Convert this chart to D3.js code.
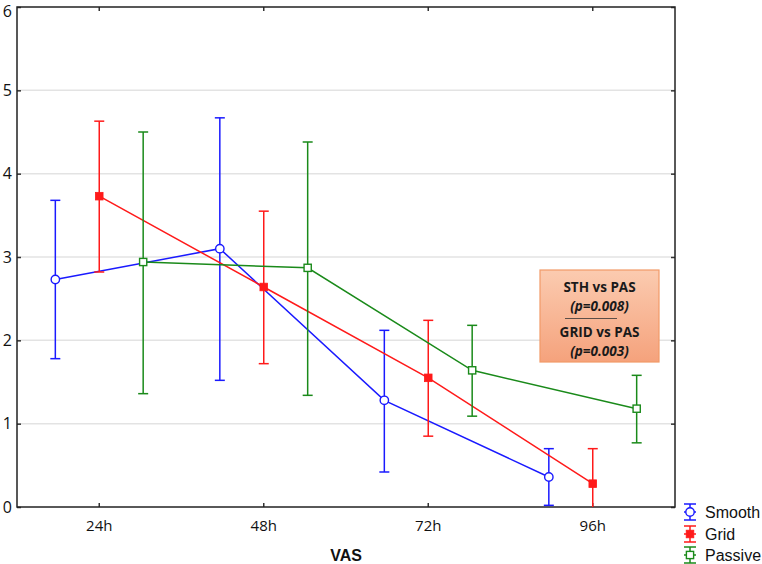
<!DOCTYPE html>
<html>
<head>
<meta charset="utf-8">
<script src="https://cdn.jsdelivr.net/npm/d3@7"></script>
<style>
  html, body { margin: 0; padding: 0; background: #fff; }
  svg { display: block; }
</style>
</head>
<body>
<svg id="chart" width="762" height="564"></svg>
<script>
// ---- data ----
const categories = ["24h", "48h", "72h", "96h"];
const yTicks = [0, 1, 2, 3, 4, 5, 6];
const seriesNames = ["Smooth", "Grid", "Passive"];

const smoothMean  = [2.73, 3.10, 1.28, 0.36];
const smoothUpper = [3.68, 4.67, 2.12, 0.70];
const smoothLower = [1.78, 1.52, 0.42, 0.02];

const gridMean  = [3.73, 2.64, 1.55, 0.28];
const gridUpper = [4.63, 3.55, 2.24, 0.70];
const gridLower = [2.82, 1.72, 0.85, -0.14];

const passiveMean  = [2.94, 2.87, 1.64, 1.18];
const passiveUpper = [4.50, 4.38, 2.18, 1.58];
const passiveLower = [1.36, 1.34, 1.09, 0.77];

const annotationLines = ["STH vs PAS", "(p=0.008)", "GRID vs PAS", "(p=0.003)"];
const xTitle = "VAS";

// ---- layout / styles ----
const colors = { Smooth: "#1a1aff", Grid: "#ff1a1a", Passive: "#1a8a1a" };
const markers = { Smooth: "circle", Grid: "filledSquare", Passive: "openSquare" };
const offsets = { Smooth: -0.267, Grid: 0, Passive: 0.267 };

const series = [
  { name: "Smooth", mean: smoothMean, upper: smoothUpper, lower: smoothLower },
  { name: "Grid", mean: gridMean, upper: gridUpper, lower: gridLower },
  { name: "Passive", mean: passiveMean, upper: passiveUpper, lower: passiveLower }
];

const plot = { left: 17, top: 7, right: 675, bottom: 507 };
const svg = d3.select("#chart");

const x = d3.scaleBand().domain(categories).range([plot.left, plot.right]).paddingInner(0).paddingOuter(0);
const y = d3.scaleLinear().domain([0, 6]).range([plot.bottom, plot.top]);
const bw = x.bandwidth();
const cx = (cat, name) => x(cat) + bw / 2 + offsets[name] * bw;

// clip
svg.append("defs").append("clipPath").attr("id", "plotclip")
  .append("rect").attr("x", plot.left).attr("y", plot.top)
  .attr("width", plot.right - plot.left).attr("height", plot.bottom - plot.top);

// gridlines
svg.append("g").selectAll("line").data(yTicks.filter(d => d > 0 && d < 6)).join("line")
  .attr("x1", plot.left).attr("x2", plot.right)
  .attr("y1", d => y(d)).attr("y2", d => y(d))
  .attr("stroke", "#e3e3e3").attr("stroke-width", 1.5);

const tickFont = "'Open Sans', 'DejaVu Sans', sans-serif";

// axes
const gx = svg.append("g").attr("transform", `translate(0,${plot.bottom})`)
  .call(d3.axisBottom(x).tickSizeInner(-4).tickSizeOuter(0).tickPadding(13));
const gxTop = svg.append("g").attr("transform", `translate(0,${plot.top})`)
  .call(d3.axisTop(x).tickSizeInner(-4).tickSizeOuter(0).tickFormat(""));
const gy = svg.append("g").attr("transform", `translate(${plot.left},0)`)
  .call(d3.axisLeft(y).tickValues(yTicks).tickSizeInner(-4).tickSizeOuter(0).tickPadding(5).tickFormat(d3.format("d")));
const gyR = svg.append("g").attr("transform", `translate(${plot.right},0)`)
  .call(d3.axisRight(y).tickValues(yTicks).tickSizeInner(-4).tickSizeOuter(0).tickFormat(""));

[gx, gxTop, gy, gyR].forEach(g => {
  g.select(".domain").remove();
  g.selectAll(".tick line").attr("stroke", "#333").attr("stroke-width", 1.5);
  g.selectAll("text").attr("font-family", tickFont).attr("font-size", 15).attr("fill", "#111");
});
gy.selectAll("text").attr("font-size", 16);
gy.selectAll(".tick").filter(d => d === 6).select("text").attr("dy", "0.6em");

// frame
svg.append("rect").attr("x", plot.left).attr("y", plot.top)
  .attr("width", plot.right - plot.left).attr("height", plot.bottom - plot.top)
  .attr("fill", "none").attr("stroke", "#222").attr("stroke-width", 1.5);

// x title
svg.append("text").attr("x", 346).attr("y", 561).attr("text-anchor", "middle")
  .attr("font-family", "'Liberation Sans', Arial, sans-serif").attr("font-weight", "bold")
  .attr("font-size", 16).attr("fill", "#111").text(xTitle);

// series
const capW = 5;
function drawMarker(g, type, color, px, py) {
  if (type === "circle") {
    g.append("circle").attr("cx", px).attr("cy", py).attr("r", 4.2)
      .attr("fill", "#fff").attr("stroke", color).attr("stroke-width", 1.4);
  } else if (type === "filledSquare") {
    g.append("rect").attr("x", px - 3.8).attr("y", py - 3.8).attr("width", 7.6).attr("height", 7.6)
      .attr("fill", color).attr("stroke", color).attr("stroke-width", 0.8);
  } else {
    g.append("rect").attr("x", px - 3.6).attr("y", py - 3.6).attr("width", 7.2).attr("height", 7.2)
      .attr("fill", "#fff").attr("stroke", color).attr("stroke-width", 1.4);
  }
}

const plotG = svg.append("g").attr("clip-path", "url(#plotclip)");
series.forEach(s => {
  const color = colors[s.name];
  const g = plotG.append("g");
  const pts = categories.map((c, i) => ({ c, i }));
  pts.forEach(p => {
    const px = cx(p.c, s.name);
    g.append("line").attr("x1", px).attr("x2", px)
      .attr("y1", y(s.lower[p.i])).attr("y2", y(s.upper[p.i]))
      .attr("stroke", color).attr("stroke-width", 1.5);
    [s.lower[p.i], s.upper[p.i]].forEach(v => {
      g.append("line").attr("x1", px - capW).attr("x2", px + capW)
        .attr("y1", y(v)).attr("y2", y(v))
        .attr("stroke", color).attr("stroke-width", 1.5);
    });
  });
  g.append("path").datum(pts)
    .attr("d", d3.line().x(p => cx(p.c, s.name)).y(p => y(s.mean[p.i])))
    .attr("fill", "none").attr("stroke", color).attr("stroke-width", 1.5);
  pts.forEach(p => drawMarker(g, markers[s.name], color, cx(p.c, s.name), y(s.mean[p.i])));
});

// annotation box
const grad = svg.select("defs").append("linearGradient").attr("id", "boxgrad")
  .attr("x1", 0).attr("y1", 0).attr("x2", 0).attr("y2", 1);
grad.append("stop").attr("offset", "0%").attr("stop-color", "#fbcbb0");
grad.append("stop").attr("offset", "100%").attr("stop-color", "#f5a27c");
const box = { x: 540, y: 270, w: 119, h: 92 };
svg.append("rect").attr("x", box.x).attr("y", box.y).attr("width", box.w).attr("height", box.h)
  .attr("fill", "url(#boxgrad)").attr("stroke", "#f29a68").attr("stroke-width", 1.2);
const boxFont = "'Open Sans', Lato, sans-serif";
const lineYs = [292, 311, 337, 356];
annotationLines.forEach((t, i) => {
  svg.append("text").attr("x", box.x + box.w / 2).attr("y", lineYs[i]).attr("text-anchor", "middle")
    .attr("font-family", boxFont).attr("font-weight", "bold")
    .attr("font-style", i % 2 === 1 ? "italic" : "normal")
    .attr("font-size", 13.5).attr("fill", "#1a1a1a").text(t);
});
svg.append("line").attr("x1", 565).attr("x2", 617).attr("y1", 318.5).attr("y2", 318.5)
  .attr("stroke", "#333").attr("stroke-width", 0.8);

// legend
const legY = [512, 534, 555];
const lg = svg.append("g");
seriesNames.forEach((n, i) => {
  const color = colors[n];
  const lx = 690, ly = legY[i];
  lg.append("line").attr("x1", lx).attr("x2", lx).attr("y1", ly - 8).attr("y2", ly + 8)
    .attr("stroke", color).attr("stroke-width", 1.5);
  [ly - 8, ly + 8].forEach(v => lg.append("line").attr("x1", lx - 6).attr("x2", lx + 6)
    .attr("y1", v).attr("y2", v).attr("stroke", color).attr("stroke-width", 1.5));
  lg.append("line").attr("x1", lx - 6).attr("x2", lx + 6).attr("y1", ly).attr("y2", ly)
    .attr("stroke", color).attr("stroke-width", 1.5);
  drawMarker(lg, markers[n], color, lx, ly);
  lg.append("text").attr("x", 705).attr("y", ly + 5.5)
    .attr("font-family", "'Liberation Sans', Arial, sans-serif").attr("font-size", 16)
    .attr("fill", "#111").text(n);
});
</script>
</body>
</html>
